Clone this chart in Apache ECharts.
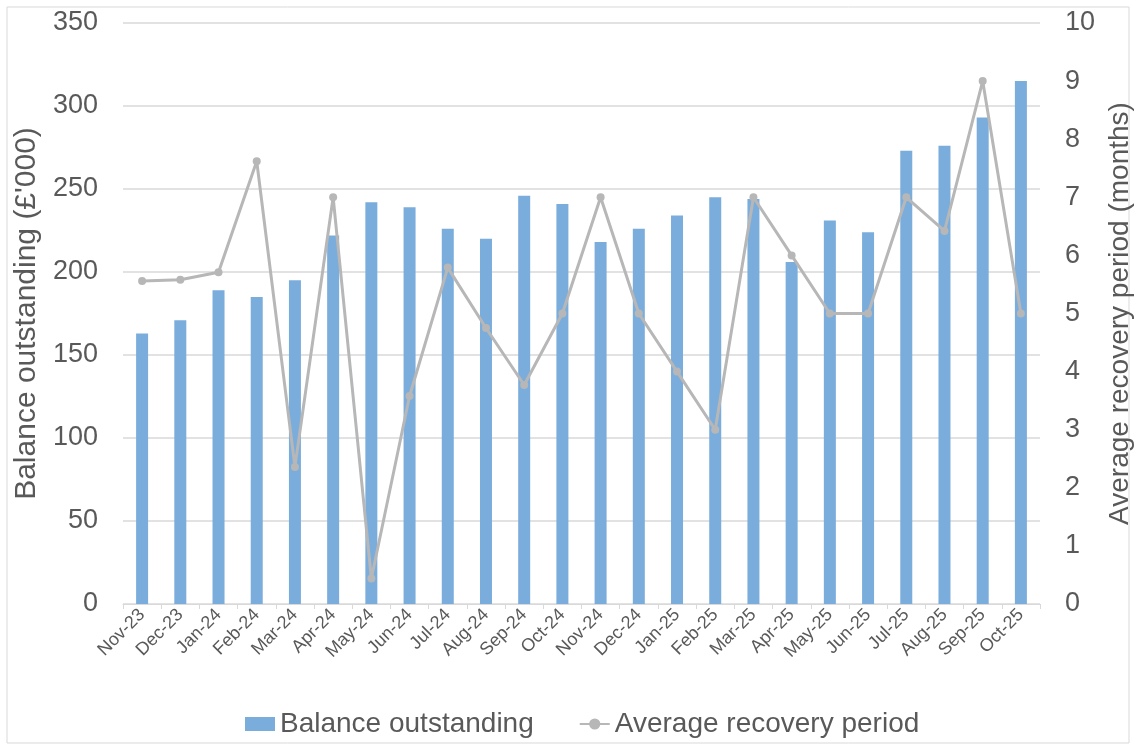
<!DOCTYPE html>
<html>
<head>
<meta charset="utf-8">
<script src="https://cdn.jsdelivr.net/npm/echarts@6/dist/echarts.min.js"></script>
<style>
html,body{margin:0;padding:0;background:#fff;}
#main{width:1135px;height:749px;}
</style>
</head>
<body>
<div id="main"></div>
<script>
var months = ['Nov-23','Dec-23','Jan-24','Feb-24','Mar-24','Apr-24','May-24','Jun-24','Jul-24','Aug-24','Sep-24','Oct-24',
              'Nov-24','Dec-24','Jan-25','Feb-25','Mar-25','Apr-25','May-25','Jun-25','Jul-25','Aug-25','Sep-25','Oct-25'];
var balance = [163,171,189,185,195,222,242,239,226,220,246,241,218,226,234,245,244,206,231,224,273,276,293,315];
var recovery = [5.56,5.58,5.71,7.62,2.36,7.0,0.44,3.58,5.79,4.75,3.77,5.0,7.0,5.0,4.0,3.0,7.0,6.0,5.0,5.0,7.0,6.42,9.0,5.0];

var font = '"Liberation Sans", Arial, sans-serif';
var txt = '#595959';

var myChart = echarts.init(document.getElementById('main'));
var option = {
    backgroundColor: '#fff',
    textStyle: { fontFamily: font },
    graphic: [{
        type: 'rect',
        shape: { x: 7, y: 7, width: 1122, height: 736 },
        style: { fill: 'none', stroke: '#d9d9d9', lineWidth: 1 },
        silent: true
    }],
    grid: { left: 123, right: 95, top: 23, bottom: 145, containLabel: false, outerBoundsMode: 'none' },
    legend: {
        top: 705,
        left: 240,
        itemGap: 45,
        itemWidth: 30,
        itemHeight: 14,
        textStyle: { fontSize: 28, color: txt, fontFamily: font },
        data: [
            { name: 'Balance outstanding', icon: 'rect' },
            { name: 'Average recovery period' }
        ]
    },
    xAxis: {
        type: 'category',
        data: months,
        axisLine: { lineStyle: { color: '#d9d9d9', width: 1 } },
        axisTick: { show: true, length: 5, lineStyle: { color: '#d9d9d9' } },
        axisLabel: { rotate: 45, fontSize: 18, color: txt, fontFamily: font, margin: 8, interval: 0 }
    },
    yAxis: [{
        type: 'value',
        min: 0, max: 350, interval: 50,
        name: "Balance outstanding (£'000)",
        nameLocation: 'middle',
        nameGap: 80,
        nameTextStyle: { fontSize: 30, color: txt, fontFamily: font },
        axisLine: { show: false },
        axisTick: { show: false },
        axisLabel: { fontSize: 27, color: txt, fontFamily: font, margin: 25 },
        splitLine: { lineStyle: { color: '#d9d9d9', width: 1.5 } }
    }, {
        type: 'value',
        min: 0, max: 10, interval: 1,
        name: 'Average recovery period (months)',
        nameLocation: 'middle',
        nameGap: 62,
        nameRotate: 90,
        nameTextStyle: { fontSize: 28, color: txt, fontFamily: font },
        axisLine: { show: false },
        axisTick: { show: false },
        axisLabel: { fontSize: 27, color: txt, fontFamily: font, margin: 25 },
        splitLine: { show: false }
    }],
    series: [{
        name: 'Balance outstanding',
        type: 'bar',
        data: balance,
        barWidth: 12,
        itemStyle: { color: '#7aaddc' }
    }, {
        name: 'Average recovery period',
        type: 'line',
        yAxisIndex: 1,
        data: recovery,
        symbol: 'circle',
        symbolSize: 8,
        lineStyle: { color: '#b7b7b7', width: 3 },
        itemStyle: { color: '#b7b7b7' }
    }]
};
myChart.setOption(option);
</script>
</body>
</html>
